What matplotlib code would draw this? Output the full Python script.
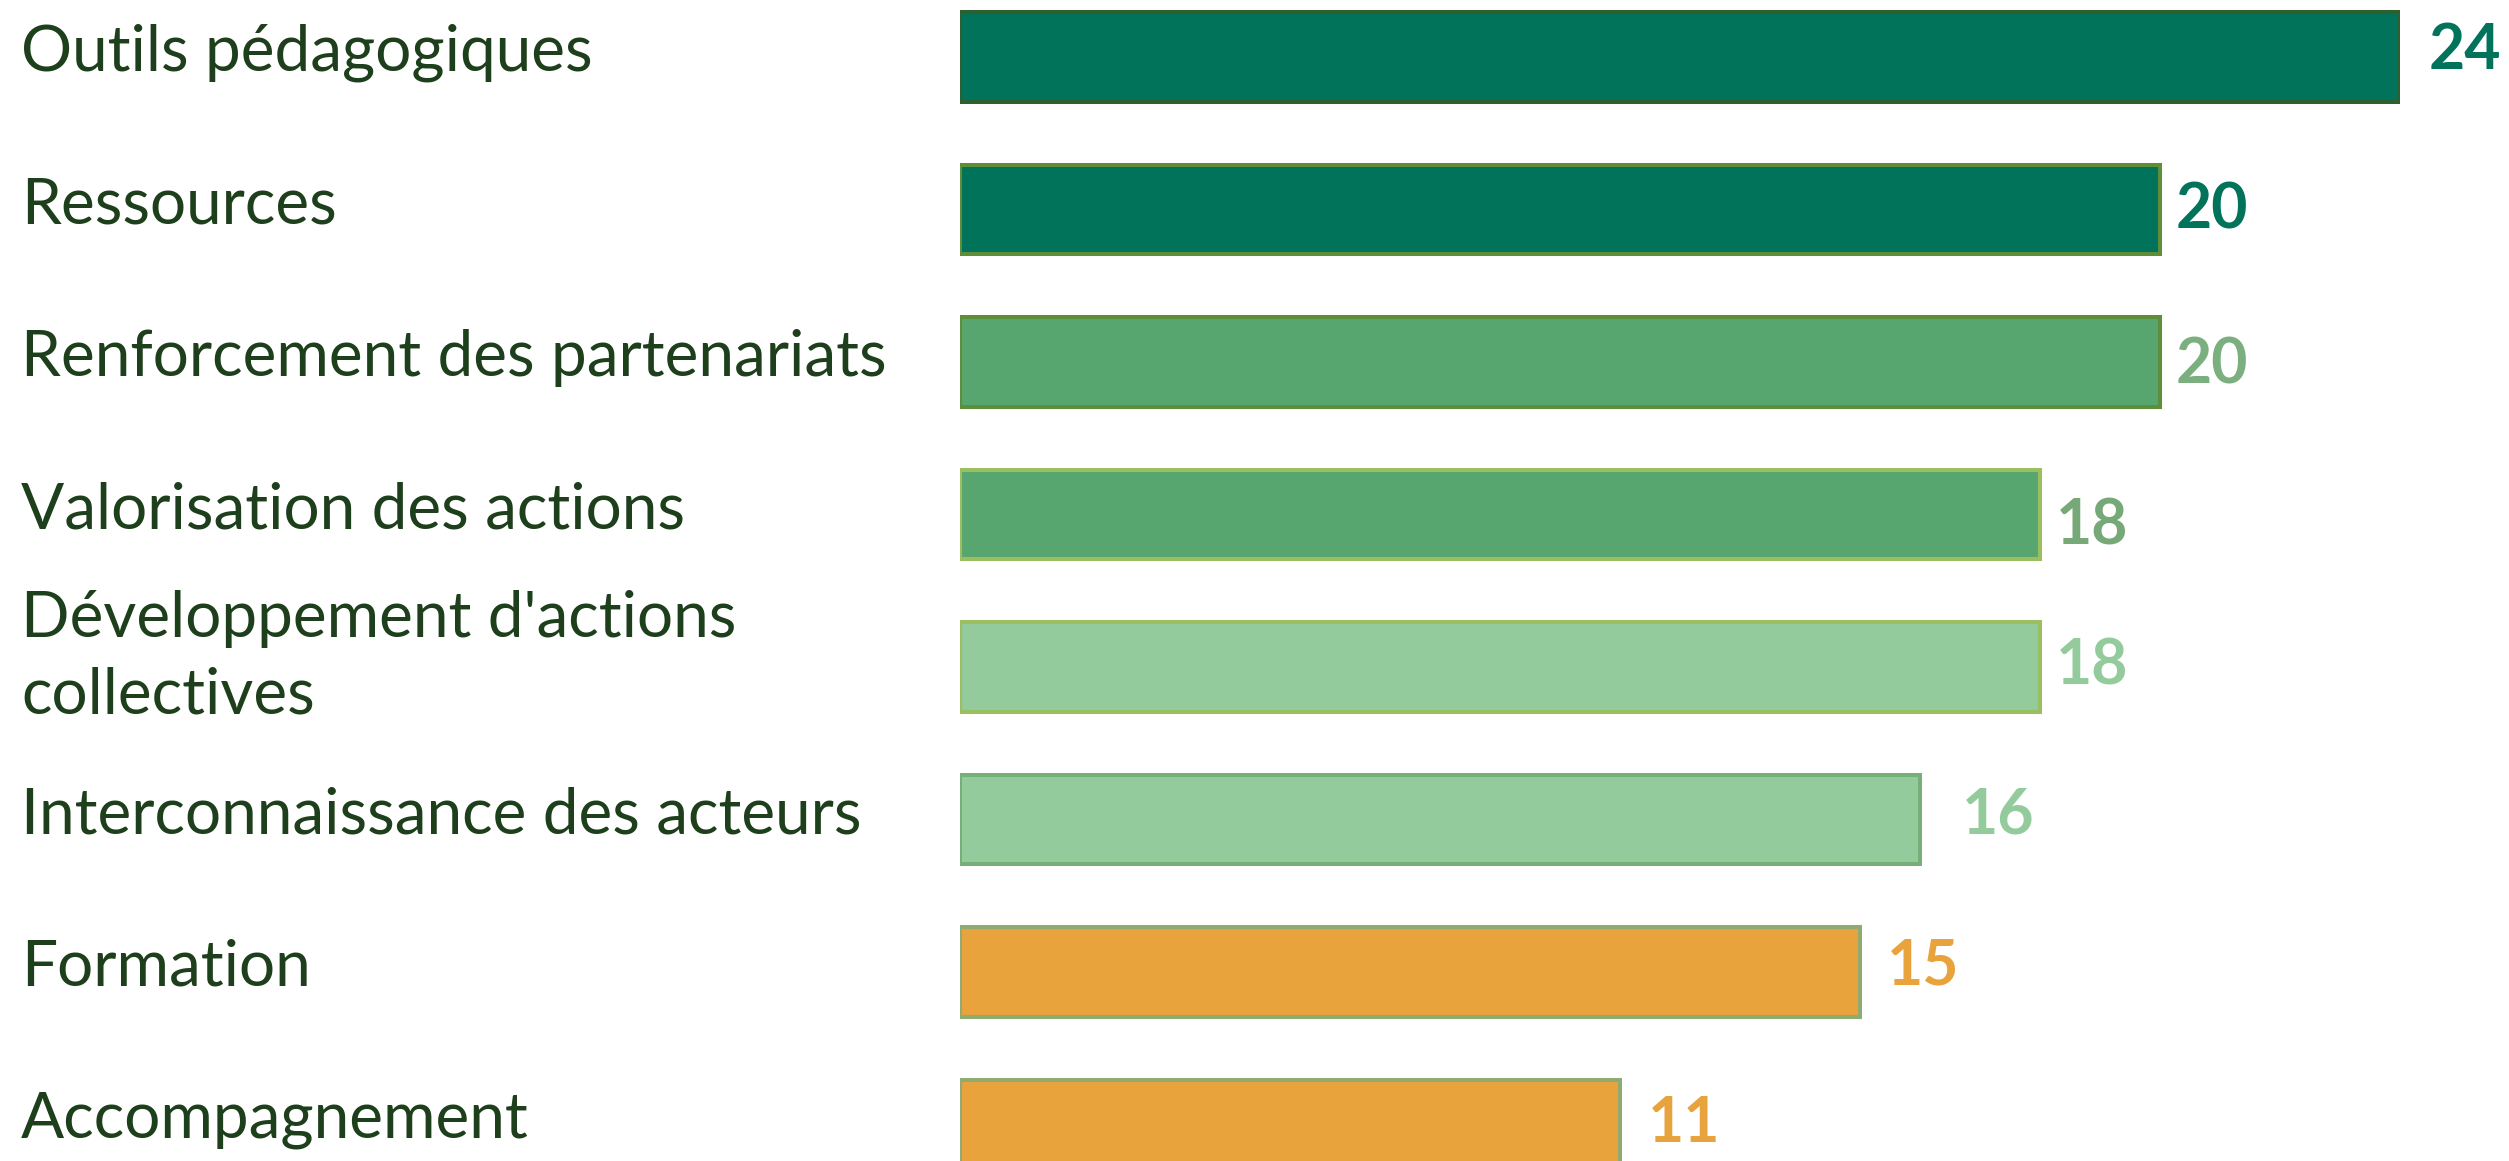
import matplotlib
matplotlib.use("Agg")
import matplotlib.pyplot as plt
import matplotlib.transforms as mtransforms

categories = [
    "Outils pédagogiques",
    "Ressources",
    "Renforcement des partenariats",
    "Valorisation des actions",
    "Développement d'actions\ncollectives",
    "Interconnaissance des acteurs",
    "Formation",
    "Accompagnement",
]
values = [24, 20, 20, 18, 18, 16, 15, 11]

fill_colors = ["#00735A", "#00735A", "#58A66F", "#58A66F",
               "#93CB9C", "#93CB9C", "#E8A33C", "#E8A33C"]
edge_colors = ["#2F5F2F", "#5E8E3A", "#5E8E3A", "#9BBF5F",
               "#9BBF5F", "#78AE78", "#8FAA72", "#8FAA72"]
label_colors = ["#00735A", "#00735A", "#7BAF7F", "#76A878",
                "#93CB9C", "#93CB9C", "#E8A33C", "#E8A33C"]
# manual nudges of the value labels (px right of bar end, px down)
label_dx = [29, 16, 16, 16, 16, 42, 27, 28]
label_dy = [-6, 1, 4, 12, 0, -4, -5, 0]

W, H = 2509, 1161
fig = plt.figure(figsize=(W / 100, H / 100), dpi=100)
ax = fig.add_axes([960 / W, 0, 1440 / W, 1])

pos = list(range(len(categories)))
ax.barh(pos, values, height=0.585, color=fill_colors,
        edgecolor=edge_colors, linewidth=2.9)

ax.set_xlim(0, 24)
ax.set_ylim(7.24, -0.374)
ax.axis("off")

trans = mtransforms.blended_transform_factory(fig.transFigure, ax.transData)
for i, cat in enumerate(categories):
    up = 10 if "\n" in cat else 4
    cat_trans = trans + mtransforms.ScaledTranslation(0, up / 100, fig.dpi_scale_trans)
    ax.text(21 / W, i, cat, transform=cat_trans, ha="left", va="center",
            fontsize=46, color="#1E3F1B", family="Lato", linespacing=1.4,
            clip_on=False)
    offset = mtransforms.offset_copy(ax.transData, fig=fig,
                                     x=label_dx[i] * 0.72, y=-label_dy[i] * 0.72,
                                     units="points")
    ax.text(values[i], i, str(values[i]), transform=offset, ha="left",
            va="center", fontsize=45, fontweight="bold",
            color=label_colors[i], family="Lato", clip_on=False)

fig.savefig("out.png", dpi=100)
